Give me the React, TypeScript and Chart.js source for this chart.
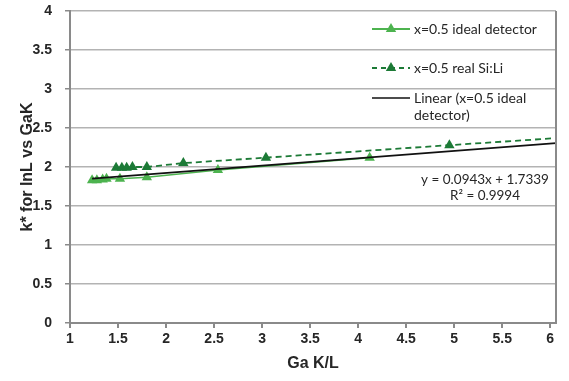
import React, { useEffect, useRef } from "react";
import { Chart, registerables } from "chart.js";

Chart.register(...registerables);

// ---- data ----
const xTicks = [1, 1.5, 2, 2.5, 3, 3.5, 4, 4.5, 5, 5.5, 6];
const yTicks = [0, 0.5, 1, 1.5, 2, 2.5, 3, 3.5, 4];
const X_MIN = 1;
const X_MAX = 6.06;
const Y_MIN = 0;
const Y_MAX = 4;

const idealX = [1.23, 1.28, 1.34, 1.38, 1.52, 1.8, 2.54, 4.12];
const idealY = [1.83, 1.83, 1.84, 1.85, 1.85, 1.87, 1.96, 2.12];

const realX = [1.48, 1.54, 1.59, 1.65, 1.8, 2.18, 3.04, 4.95, 6.06];
const realY = [1.99, 1.99, 1.99, 2.0, 2.0, 2.05, 2.12, 2.28, 2.37];
const realMarked = [true, true, true, true, true, true, true, true, false];

const TREND_SLOPE = 0.0943;
const TREND_INTERCEPT = 1.7339;
const TREND_R2 = "0.9994";

const seriesNames = [
  "x=0.5 ideal detector",
  "x=0.5 real Si:Li",
  "Linear (x=0.5 ideal",
  "detector)",
];
const xTitle = "Ga K/L";
const yTitle = "k* for lnL vs GaK";

const LIGHT = "#4db34f";
const DARK = "#1c7a36";
const AXIS = "#8a8a8a";
const GRID = "#b3b3b3";
const TEXT = "#262626";

function drawTri(ctx: CanvasRenderingContext2D, x: number, y: number, r: number, color: string) {
  ctx.save();
  ctx.fillStyle = color;
  ctx.beginPath();
  ctx.moveTo(x, y - r);
  ctx.lineTo(x + r * 0.866, y + r * 0.5);
  ctx.lineTo(x - r * 0.866, y + r * 0.5);
  ctx.closePath();
  ctx.fill();
  ctx.restore();
}

const overlay = {
  id: "overlay",
  afterDraw(chart: any) {
    const ctx = chart.ctx as CanvasRenderingContext2D;
    const a = chart.chartArea;
    ctx.save();
    // right border of plot area
    ctx.strokeStyle = AXIS;
    ctx.lineWidth = 2;
    ctx.beginPath();
    ctx.moveTo(a.right, a.top);
    ctx.lineTo(a.right, a.bottom);
    ctx.stroke();

    // axis titles
    ctx.fillStyle = TEXT;
    ctx.font = "bold 16px 'Liberation Sans', Arial, sans-serif";
    ctx.textAlign = "center";
    ctx.textBaseline = "middle";
    ctx.fillText(xTitle, (a.left + a.right) / 2, 364);
    ctx.save();
    ctx.translate(28, (a.top + a.bottom) / 2);
    ctx.rotate(-Math.PI / 2);
    ctx.fillText(yTitle, 0, 0);
    ctx.restore();

    // legend
    const lx0 = 372, lx1 = 410, tx = 414;
    const rows = [29, 68, 101];
    ctx.lineWidth = 2;
    ctx.strokeStyle = LIGHT;
    ctx.beginPath();
    ctx.moveTo(lx0, rows[0]);
    ctx.lineTo(lx1, rows[0]);
    ctx.stroke();
    drawTri(ctx, (lx0 + lx1) / 2, rows[0], 6, LIGHT);
    ctx.strokeStyle = DARK;
    ctx.setLineDash([5, 4]);
    ctx.beginPath();
    ctx.moveTo(lx0, rows[1]);
    ctx.lineTo(lx1, rows[1]);
    ctx.stroke();
    ctx.setLineDash([]);
    drawTri(ctx, (lx0 + lx1) / 2, rows[1], 6, DARK);
    ctx.strokeStyle = "#111";
    ctx.lineWidth = 1.5;
    ctx.beginPath();
    ctx.moveTo(lx0, rows[2] - 3);
    ctx.lineTo(lx1, rows[2] - 3);
    ctx.stroke();

    ctx.font = "14px Lato, 'Open Sans', sans-serif";
    ctx.textAlign = "left";
    ctx.fillStyle = TEXT;
    ctx.fillText(seriesNames[0], tx, rows[0]);
    ctx.fillText(seriesNames[1], tx, rows[1]);
    ctx.fillText(seriesNames[2], tx, rows[2] - 3);
    ctx.fillText(seriesNames[3], tx, rows[2] + 14);

    // equation
    ctx.textAlign = "center";
    ctx.font = "13.5px Lato, 'Open Sans', sans-serif";
    ctx.fillText(`y = ${TREND_SLOPE}x + ${TREND_INTERCEPT}`, 485, 180);
    ctx.fillText(`R\u00B2 = ${TREND_R2}`, 485, 196);
    ctx.restore();
  },
};

export default function App() {
  const ref = useRef<HTMLCanvasElement>(null);
  useEffect(() => {
    document.body.style.margin = "0";
    const trendX = [idealX[0], X_MAX];
    const chart = new Chart(ref.current!, {
      type: "scatter",
      data: {
        datasets: [
          {
            label: "trend",
            data: trendX.map((x) => ({ x, y: TREND_SLOPE * x + TREND_INTERCEPT })),
            showLine: true,
            borderColor: "#111",
            borderWidth: 1.8,
            pointRadius: 0,
            order: 0,
          },
          {
            label: seriesNames[0],
            data: idealX.map((x, i) => ({ x, y: idealY[i] })),
            showLine: true,
            borderColor: LIGHT,
            borderWidth: 1.5,
            pointStyle: "triangle",
            pointRadius: 6,
            pointBackgroundColor: LIGHT,
            pointBorderColor: LIGHT,
            pointBorderWidth: 0,
            order: 2,
          },
          {
            label: seriesNames[1],
            data: realX.map((x, i) => ({ x, y: realY[i] })),
            showLine: true,
            borderColor: DARK,
            borderWidth: 1.8,
            borderDash: [6, 4],
            pointStyle: "triangle",
            pointRadius: realMarked.map((m) => (m ? 6 : 0)),
            pointBackgroundColor: DARK,
            pointBorderColor: DARK,
            pointBorderWidth: 0,
            order: 1,
          },
        ],
      },
      options: {
        responsive: false,
        animation: false,
        layout: { padding: { top: 11, right: 13, left: 0, bottom: 0 } },
        plugins: { legend: { display: false }, tooltip: { enabled: false } },
        scales: {
          x: {
            type: "linear",
            min: X_MIN,
            max: X_MAX,
            afterBuildTicks: (s: any) => {
              s.ticks = xTicks.map((v) => ({ value: v }));
            },
            afterFit: (s: any) => {
              s.height = 58;
              s.paddingLeft = 0;
              s.paddingRight = 0;
            },
            grid: { drawOnChartArea: false, drawTicks: true, tickLength: 5, tickColor: AXIS, lineWidth: 2 },
            border: { color: AXIS, width: 2 },
            ticks: {
              padding: 3,
              color: TEXT,
              font: { family: "'Liberation Sans', Arial, sans-serif", size: 14, weight: "bold" },
              callback: (v: any) => String(v),
            },
          },
          y: {
            type: "linear",
            min: Y_MIN,
            max: Y_MAX,
            afterBuildTicks: (s: any) => {
              s.ticks = yTicks.map((v) => ({ value: v }));
            },
            afterFit: (s: any) => {
              s.width = 70;
              s.paddingTop = 0;
              s.paddingBottom = 0;
            },
            grid: { color: GRID, lineWidth: 1.5, drawTicks: true, tickLength: 5, tickColor: AXIS },
            border: { color: AXIS, width: 2 },
            ticks: {
              padding: 13,
              color: TEXT,
              font: { family: "'Liberation Sans', Arial, sans-serif", size: 14, weight: "bold" },
              callback: (v: any) => String(v),
            },
          },
        },
      },
      plugins: [overlay],
    });
    return () => chart.destroy();
  }, []);
  return (
    <div style={{ width: 569, height: 381 }}>
      <canvas ref={ref} width={569} height={381} style={{ display: "block" }} />
    </div>
  );
}
